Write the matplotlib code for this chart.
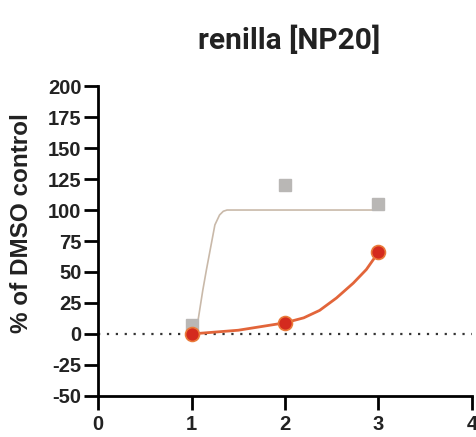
import matplotlib.pyplot as plt

# measured points
x_pts = [1, 2, 3]
gray_y = [7, 120, 105]
red_y = [0, 9, 66]

# fitted curves
gray_fit_x = [1.0, 1.07, 1.12, 1.16, 1.20, 1.25, 1.30, 1.34, 1.38, 1.5, 2.0, 3.0]
gray_fit_y = [4, 11, 35, 52, 68, 88, 96, 99, 100, 100, 100, 100]
red_fit_x = [1.0, 1.5, 2.0, 2.2, 2.37, 2.55, 2.73, 2.87, 3.0]
red_fit_y = [0, 3, 9, 13, 19, 29, 41, 52, 66]

xticks = [0, 1, 2, 3, 4]
yticks = [-50, -25, 0, 25, 50, 75, 100, 125, 150, 175, 200]

plt.rcParams['font.family'] = ['Liberation Sans', 'DejaVu Sans']
plt.rcParams['axes.unicode_minus'] = False

fig = plt.figure(figsize=(4.77, 4.37), dpi=100)
ax = fig.add_axes([0.2055, 0.094, 0.784, 0.709])

ax.axhline(0, color='#333333', linestyle=(0, (1, 3)), linewidth=1.6, zorder=1)
ax.plot(gray_fit_x, gray_fit_y, color='#c9b9a9', linewidth=1.2, zorder=2)
ax.plot(red_fit_x, red_fit_y, color='#e2653a', linewidth=2.0, zorder=2)
ax.plot(x_pts, gray_y, 's', color='#b9b7b5', markersize=9, zorder=3)
ax.plot(x_pts, red_y, 'o', color='#d42a1e', markeredgecolor='#ea7a3a',
        markeredgewidth=1.2, markersize=10, zorder=4)

ax.set_xlim(0, 4)
ax.set_ylim(-50, 200)
ax.set_xticks(xticks)
ax.set_yticks(yticks)
for s in ['top', 'right']:
    ax.spines[s].set_visible(False)
for s in ['left', 'bottom']:
    ax.spines[s].set_linewidth(2)
ax.tick_params(width=2, length=10, labelsize=14.5)
ax.tick_params(axis='y', pad=2)
ax.tick_params(axis='x', pad=4)
for lab in ax.get_xticklabels() + ax.get_yticklabels():
    lab.set_fontweight('bold')
    lab.set_color('#222222')

fig.text(0.045, 0.49, '% of DMSO control', fontsize=17.5, fontweight='bold',
         rotation=90, ha='center', va='center', color='#222222')
fig.text(0.606, 0.908, 'renilla [NP20]', fontsize=21.5, fontweight='bold',
         ha='center', va='center', color='#222222', family=['Roboto', 'DejaVu Sans'])

fig.savefig('out.png', dpi=100)
